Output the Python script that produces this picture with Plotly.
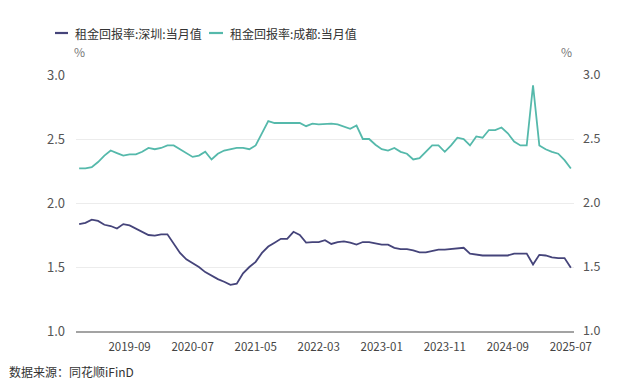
import plotly.graph_objects as go

# Monthly categories 2019-01 .. 2025-07
months = [f"{y}-{m:02d}" for y in range(2019, 2026) for m in range(1, 13)]
months = months[:79]

shenzhen = [1.835, 1.845, 1.87, 1.86, 1.83, 1.82, 1.80, 1.835, 1.825, 1.80,
            1.77, 1.75, 1.745, 1.755, 1.755, 1.68, 1.61, 1.56, 1.53, 1.50,
            1.46, 1.43, 1.405, 1.385, 1.36, 1.37, 1.45, 1.50, 1.54, 1.61,
            1.66, 1.69, 1.72, 1.72, 1.775, 1.75, 1.69, 1.695, 1.695, 1.71,
            1.68, 1.695, 1.70, 1.69, 1.675, 1.695, 1.695, 1.685, 1.675, 1.675,
            1.65, 1.64, 1.64, 1.63, 1.615, 1.615, 1.625, 1.635, 1.635, 1.64,
            1.65, 1.65, 1.605, 1.595, 1.59, 1.59, 1.59, 1.59, 1.59, 1.605,
            1.605, 1.605, 1.52, 1.595, 1.59, 1.575, 1.57, 1.57, 1.495]

chengdu = [2.27, 2.27, 2.28, 2.32, 2.37, 2.41, 2.39, 2.37, 2.38, 2.38,
           2.40, 2.43, 2.42, 2.43, 2.45, 2.45, 2.42, 2.39, 2.36, 2.37,
           2.40, 2.34, 2.385, 2.41, 2.42, 2.43, 2.43, 2.42, 2.45, 2.55,
           2.64, 2.625, 2.625, 2.625, 2.625, 2.625, 2.60, 2.62, 2.615, 2.62,
           2.62, 2.615, 2.60, 2.58, 2.605, 2.50, 2.50, 2.455, 2.42, 2.41,
           2.43, 2.40, 2.385, 2.34, 2.35, 2.40, 2.45, 2.45, 2.40, 2.45,
           2.51, 2.50, 2.45, 2.52, 2.51, 2.57, 2.57, 2.59, 2.545, 2.48,
           2.45, 2.45, 2.92, 2.45, 2.42, 2.40, 2.385, 2.335, 2.27]

tick_labels = ["2019-09", "2020-07", "2021-05", "2022-03", "2023-01",
               "2023-11", "2024-09", "2025-07"]
y_ticks = [1.0, 1.5, 2.0, 2.5, 3.0]

name_sz = "租金回报率:深圳:当月值"
name_cd = "租金回报率:成都:当月值"
c_sz = "#45447a"
c_cd = "#55b9ab"
FONT = "Noto Sans CJK SC"

fig = go.Figure()
fig.add_trace(go.Scatter(x=months, y=shenzhen, mode="lines", name=name_sz,
                         line=dict(color=c_sz, width=1.8), yaxis="y"))
fig.add_trace(go.Scatter(x=months, y=chengdu, mode="lines", name=name_cd,
                         line=dict(color=c_cd, width=1.8), yaxis="y2"))

fig.update_layout(
    width=640, height=380,
    margin=dict(l=76, r=66, t=75, b=49),
    paper_bgcolor="white", plot_bgcolor="white",
    showlegend=False,
    font=dict(family=FONT, color="#555555", size=12),
    xaxis=dict(type="category", range=[-0.5, 78.5],
               tickmode="array", tickvals=tick_labels, ticktext=tick_labels,
               showgrid=False, showline=True, linecolor="#a3a3a3", linewidth=1.5,
               ticks="", ticklabelstandoff=4,
               tickfont=dict(size=11.5, color="#444444"), zeroline=False),
    yaxis=dict(range=[1.0, 3.0], tickvals=y_ticks, tickformat=".1f",
               showgrid=True, gridcolor="#ececec", gridwidth=1,
               zeroline=False, showline=False, ticks="",
               ticklabelstandoff=10,
               tickfont=dict(size=13, color="#555555")),
    yaxis2=dict(range=[1.0, 3.0], tickvals=y_ticks, tickformat=".1f",
                overlaying="y", side="right", showgrid=False,
                zeroline=False, showline=False, ticks="",
                ticklabelstandoff=8,
                tickfont=dict(size=12.5, color="#555555")),
)

# Manual legend
def px_x(X):
    return (X - 76) / 498.0

def px_y(Y):
    return (331 - Y) / 256.0

shapes = []
annots = []
for (x0, x1, tx, name, col) in [(55, 68, 73, name_sz, c_sz), (209, 223, 228, name_cd, c_cd)]:
    shapes.append(dict(type="line", xref="paper", yref="paper",
                       x0=px_x(x0), x1=px_x(x1), y0=px_y(33), y1=px_y(33),
                       line=dict(color=col, width=2.2)))
    annots.append(dict(text=name, xref="paper", yref="paper", x=px_x(tx), y=px_y(33),
                       xanchor="left", yanchor="middle", showarrow=False,
                       font=dict(size=12, color="#333333", family=FONT)))

annots.append(dict(text="%", xref="paper", yref="paper", x=px_x(79), y=px_y(51),
                   xanchor="center", yanchor="middle", showarrow=False,
                   font=dict(size=12, color="#777777", family=FONT)))
annots.append(dict(text="%", xref="paper", yref="paper", x=px_x(566), y=px_y(51),
                   xanchor="center", yanchor="middle", showarrow=False,
                   font=dict(size=12, color="#777777", family=FONT)))
annots.append(dict(text="数据来源：同花顺iFinD", xref="paper", yref="paper",
                   x=px_x(7), y=px_y(371), xanchor="left", yanchor="middle",
                   showarrow=False, font=dict(size=12, color="#333333", family=FONT)))

fig.update_layout(shapes=shapes, annotations=annots)

fig.write_html("out.html", config={"displayModeBar": False},
               post_script="document.body.style.margin='0';document.body.style.overflow='hidden';")
